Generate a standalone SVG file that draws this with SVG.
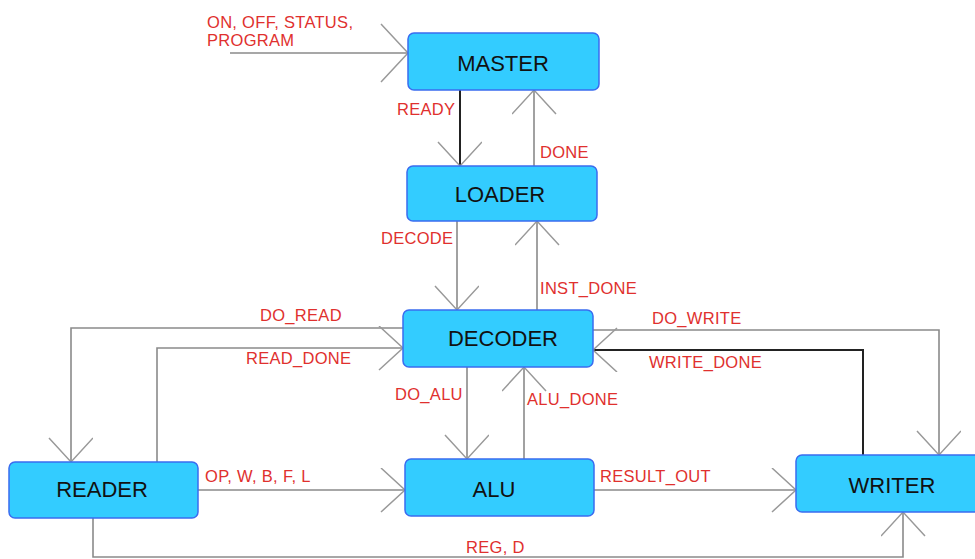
<svg xmlns="http://www.w3.org/2000/svg" width="975" height="559" viewBox="0 0 975 559">
<defs>
<style>
.node rect{fill:#33ccff;stroke:#3a6cf0;stroke-width:1.5}
.node text{font-family:"Liberation Sans",Arial,sans-serif;font-size:22px;fill:#111;text-anchor:middle}
.lbl{font-family:"Liberation Sans",Arial,sans-serif;font-size:16.5px;letter-spacing:0.3px;fill:#e0302e}
.ln{fill:none;stroke:#8a8a8a;stroke-width:1.6}
.dk{fill:none;stroke:#222;stroke-width:2}
</style>
<marker id="ah" markerUnits="userSpaceOnUse" markerWidth="32" markerHeight="48" refX="26" refY="22" orient="auto">
<path d="M2,0 L26,22 L2,44" fill="none" stroke="#999" stroke-width="1.5"/>
</marker>
<marker id="ahb" markerUnits="userSpaceOnUse" markerWidth="36" markerHeight="64" refX="30" refY="30" orient="auto">
<path d="M3,1 L30,30 L3,59" fill="none" stroke="#999" stroke-width="1.5"/>
</marker>
</defs>
<rect width="975" height="559" fill="#fff"/>
<g id="connectors">
<path class="ln" d="M230,53 H408" marker-end="url(#ahb)"/>
<path class="dk" d="M460,90 V166" marker-end="url(#ah)"/>
<path class="ln" d="M534,166 V90" marker-end="url(#ah)"/>
<path class="ln" d="M457,221 V310" marker-end="url(#ah)"/>
<path class="ln" d="M537,310 V221" marker-end="url(#ah)"/>
<path class="ln" d="M403,328 H71 V462" marker-end="url(#ah)"/>
<path class="ln" d="M157,462 V348 H403" marker-end="url(#ah)"/>
<path class="ln" d="M593,330 H939 V455" marker-end="url(#ah)"/>
<path class="dk" d="M863,455 V350 H593" marker-end="url(#ah)"/>
<path class="ln" d="M467,367 V459" marker-end="url(#ah)"/>
<path class="ln" d="M524,459 V367" marker-end="url(#ah)"/>
<path class="ln" d="M198,490 H405" marker-end="url(#ah)"/>
<path class="ln" d="M594,490 H796" marker-end="url(#ah)"/>
<path class="ln" d="M93,518 V557 H903 V512" marker-end="url(#ah)"/>
</g>
<g id="labels">
<text class="lbl" x="207" y="28">ON, OFF, STATUS,</text>
<text class="lbl" x="207" y="46">PROGRAM</text>
<text class="lbl" x="397" y="115">READY</text>
<text class="lbl" x="540" y="158">DONE</text>
<text class="lbl" x="381" y="244">DECODE</text>
<text class="lbl" x="540" y="294">INST_DONE</text>
<text class="lbl" x="260" y="321">DO_READ</text>
<text class="lbl" x="246" y="364">READ_DONE</text>
<text class="lbl" x="652" y="324">DO_WRITE</text>
<text class="lbl" x="649" y="368">WRITE_DONE</text>
<text class="lbl" x="395" y="400">DO_ALU</text>
<text class="lbl" x="527" y="405">ALU_DONE</text>
<text class="lbl" x="205" y="482">OP, W, B, F, L</text>
<text class="lbl" x="600" y="482">RESULT_OUT</text>
<text class="lbl" x="466" y="553">REG, D</text>
</g>
<g id="MASTER" class="node"><rect x="408" y="33" width="191" height="57" rx="6"/><text x="503" y="71">MASTER</text></g>
<g id="LOADER" class="node"><rect x="407" y="166" width="190" height="55" rx="6"/><text x="500" y="202">LOADER</text></g>
<g id="DECODER" class="node"><rect x="403" y="310" width="190" height="57" rx="6"/><text x="503" y="346">DECODER</text></g>
<g id="READER" class="node"><rect x="9" y="462" width="189" height="56" rx="6"/><text x="102" y="497">READER</text></g>
<g id="ALU" class="node"><rect x="405" y="459" width="189" height="57" rx="6"/><text x="494" y="497">ALU</text></g>
<g id="WRITER" class="node"><rect x="796" y="455" width="190" height="57" rx="6"/><text x="892" y="493">WRITER</text></g>
</svg>
